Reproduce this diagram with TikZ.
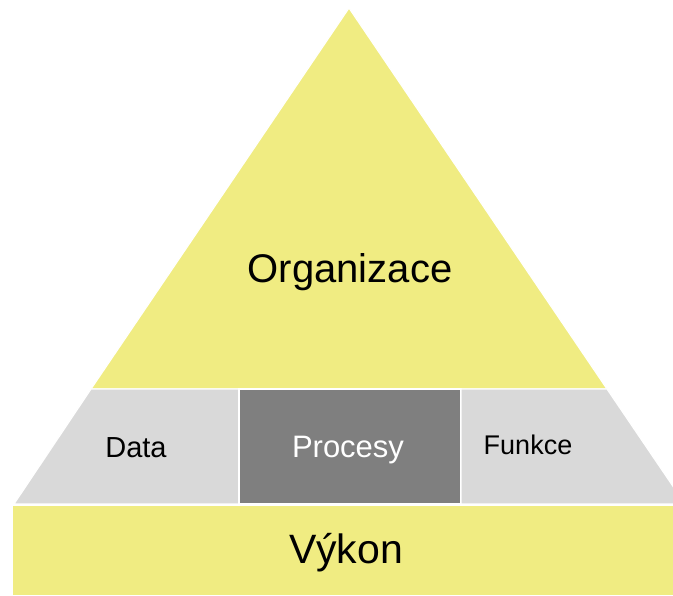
\documentclass[tikz,border=0pt]{standalone}
\usepackage{fontspec}
\setmainfont{Liberation Sans}
\definecolor{pyellow}{HTML}{F0EC82}
\definecolor{plight}{HTML}{D9D9D9}
\definecolor{pdark}{HTML}{7F7F7F}
\tikzset{
  piece/.style={draw=white, line width=1.2pt},
  lbl/.style={inner sep=0pt, anchor=base},
}
\begin{document}
\begin{tikzpicture}[x=1pt,y=-1pt]
\useasboundingbox (0,0) rectangle (673,596);
\clip (0,0) rectangle (673,596);
% top triangle
\fill[pyellow, piece] (349,8) -- (607,389) -- (91,389) -- cycle;
% middle band
\fill[plight, piece] (91,389) -- (239,389) -- (239,504) -- (14,504) -- cycle;
\fill[pdark, piece] (239,389) rectangle (461,504);
\fill[plight, piece] (461,389) -- (607,389) -- (685,504) -- (461,504) -- cycle;
% base bar
\fill[pyellow, piece] (12,505) rectangle (690,596);
% labels
\node[lbl, font=\fontsize{40}{40}\selectfont] (org) at (350,283) {Organizace};
\node[lbl, font=\fontsize{31}{31}\selectfont, text=white] (proc) at (348,457) {Procesy};
\node[lbl, font=\fontsize{29}{29}\selectfont] (data) at (136,457) {Data};
\node[lbl, font=\fontsize{27}{27}\selectfont] (fun) at (528,455) {Funkce};
\node[lbl, font=\fontsize{41}{41}\selectfont] (vyk) at (346,563) {Výkon};
\end{tikzpicture}
\end{document}
